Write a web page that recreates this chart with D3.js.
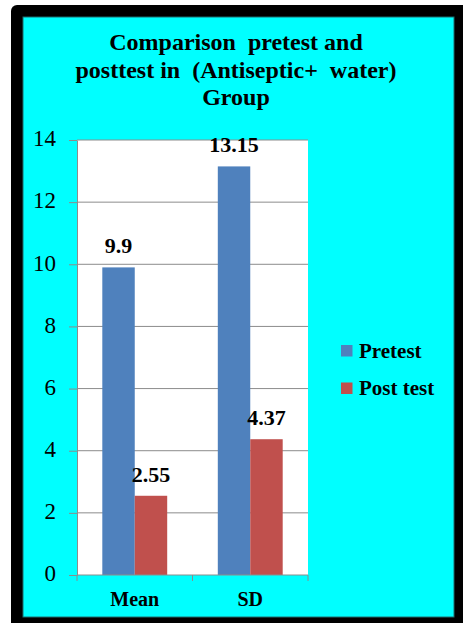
<!DOCTYPE html>
<html lang="en">
<head>
    <meta charset="UTF-8">
    <title>Comparison pretest and posttest</title>
    <script src="https://d3js.org/d3.v7.min.js"></script>
    <style>
        body { margin: 0; background: #fff; }
        svg text { font-family: "Liberation Serif", "DejaVu Serif", serif; fill: #000; }
    </style>
</head>
<body>
<div id="chart"></div>

<script>
    // chart data
    var categories = ["Mean", "SD"];
    var seriesNames = ["Pretest", "Post test"];
    var pretest = [9.9, 13.15];
    var posttest = [2.55, 4.37];
    var yTicks = [0, 2, 4, 6, 8, 10, 12, 14];
    var titleLines = ["Comparison  pretest and", "posttest in  (Antiseptic+  water)", "Group"];
    var colors = ["#4f81bd", "#c0504d"];

    var serif = "'Liberation Serif', 'DejaVu Serif', serif";
    var width = 463, height = 623;
    var svg = d3.select("#chart").append("svg")
        .attr("width", width)
        .attr("height", height);

    // black frame + cyan panel
    svg.append("rect")
        .attr("x", 11).attr("y", 5)
        .attr("width", 460).attr("height", 630)
        .attr("rx", 6)
        .attr("fill", "#000");
    svg.append("rect")
        .attr("x", 23).attr("y", 17)
        .attr("width", 431).attr("height", 600)
        .attr("fill", "#00ffff")
        .attr("stroke", "#1f6f6f")
        .attr("stroke-width", 1);

    // title
    svg.append("g").selectAll("text")
        .data(titleLines)
        .enter().append("text")
        .attr("x", 236)
        .attr("y", (d, i) => 50 + i * 27.5)
        .attr("text-anchor", "middle")
        .attr("font-family", serif)
        .attr("font-size", 24)
        .attr("font-weight", "bold")
        .style("white-space", "pre")
        .text(d => d);

    // plot area
    var plot = { left: 77, right: 308, top: 140, bottom: 575 };

    var y = d3.scaleLinear().domain([0, 14]).range([plot.bottom, plot.top]);
    var x0 = d3.scaleBand().domain(categories).range([plot.left, plot.right]).padding(0);
    var x1 = d3.scaleBand().domain(seriesNames).range([0, x0.bandwidth()])
        .paddingInner(0).paddingOuter(0.78);

    svg.append("rect")
        .attr("x", plot.left).attr("y", plot.top)
        .attr("width", plot.right - plot.left)
        .attr("height", plot.bottom - plot.top)
        .attr("fill", "#fff");

    // gridlines
    svg.append("g").selectAll("line")
        .data(yTicks.filter(d => d > 0))
        .enter().append("line")
        .attr("x1", plot.left).attr("x2", plot.right)
        .attr("y1", d => y(d)).attr("y2", d => y(d))
        .attr("stroke", "#8c8c8c")
        .attr("stroke-width", 1);

    // y axis
    var yAxis = svg.append("g")
        .attr("transform", "translate(" + plot.left + ",0)")
        .call(d3.axisLeft(y).tickValues(yTicks).tickSizeInner(8).tickSizeOuter(0).tickPadding(13));
    yAxis.attr("font-family", serif);
    yAxis.select(".domain").attr("stroke", "#8c8c8c");
    yAxis.selectAll(".tick line").attr("stroke", "#8c8c8c");
    yAxis.selectAll(".tick text")
        .attr("font-size", 23)
        .attr("fill", "#000")
        .attr("dy", "0.25em");

    // bars
    var rows = categories.map((c, i) => ({ cat: c, vals: [pretest[i], posttest[i]] }));

    var groups = svg.append("g").selectAll("g")
        .data(rows)
        .enter().append("g")
        .attr("transform", d => "translate(" + x0(d.cat) + ",0)");

    groups.selectAll("rect")
        .data(d => d.vals.map((v, j) => ({ name: seriesNames[j], value: v, idx: j })))
        .enter().append("rect")
        .attr("x", d => x1(d.name))
        .attr("y", d => y(d.value))
        .attr("width", x1.bandwidth())
        .attr("height", d => y(0) - y(d.value))
        .attr("fill", d => colors[d.idx]);

    groups.selectAll("text")
        .data(d => d.vals.map((v, j) => ({ name: seriesNames[j], value: v })))
        .enter().append("text")
        .attr("x", d => x1(d.name) + x1.bandwidth() / 2)
        .attr("y", d => y(d.value) - 14)
        .attr("text-anchor", "middle")
        .attr("font-family", serif)
        .attr("font-size", 22)
        .attr("font-weight", "bold")
        .text(d => d.value);

    // x axis
    var xAxis = svg.append("g")
        .attr("transform", "translate(0," + plot.bottom + ")");
    xAxis.append("line")
        .attr("x1", plot.left).attr("x2", plot.right)
        .attr("stroke", "#8c8c8c");
    xAxis.selectAll(".sep")
        .data([plot.left, x0("SD"), plot.right])
        .enter().append("line")
        .attr("x1", d => d).attr("x2", d => d)
        .attr("y1", 0).attr("y2", 6)
        .attr("stroke", "#8c8c8c");
    xAxis.selectAll(".lbl")
        .data(categories)
        .enter().append("text")
        .attr("x", d => x0(d) + x0.bandwidth() / 2)
        .attr("y", 31)
        .attr("text-anchor", "middle")
        .attr("font-family", serif)
        .attr("font-size", 20)
        .attr("font-weight", "bold")
        .text(d => d);

    // legend
    var legend = svg.append("g").selectAll("g")
        .data(seriesNames)
        .enter().append("g")
        .attr("transform", (d, i) => "translate(341," + (345 + i * 37.5) + ")");
    legend.append("rect")
        .attr("width", 11.5).attr("height", 11.5)
        .attr("fill", (d, i) => colors[i]);
    legend.append("text")
        .attr("x", 18).attr("y", 12.5)
        .attr("font-family", serif)
        .attr("font-size", 21)
        .attr("font-weight", "bold")
        .text(d => d);
</script>
</body>
</html>
